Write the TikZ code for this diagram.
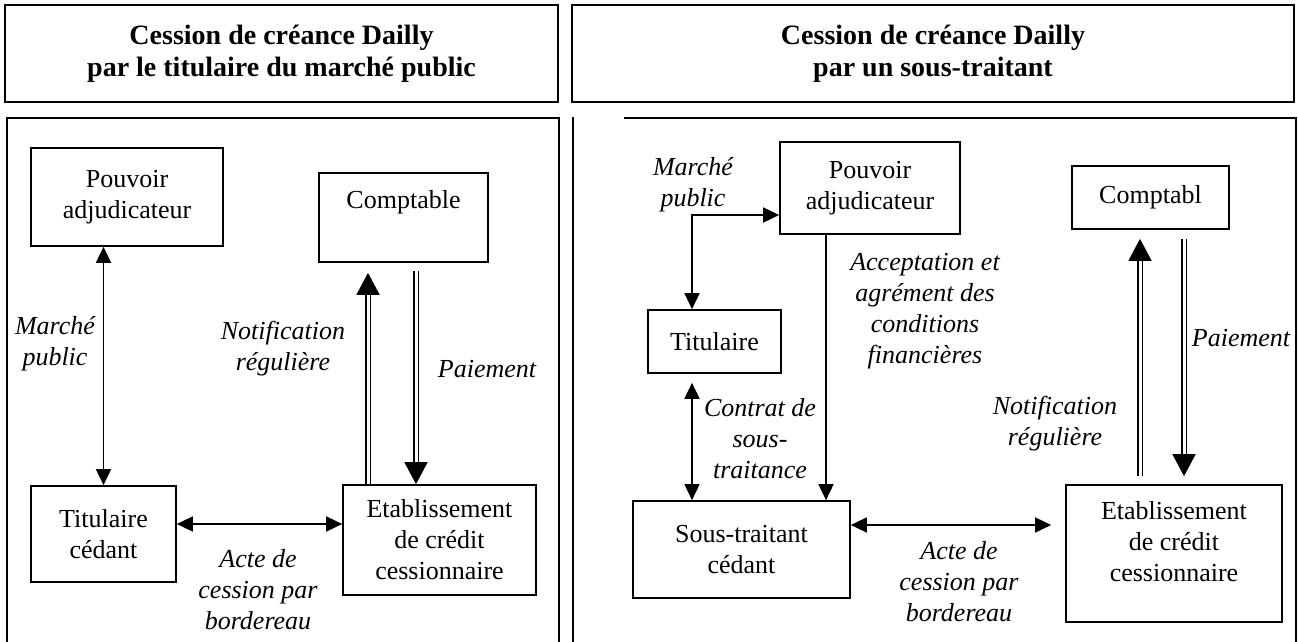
\documentclass[tikz,border=0pt]{standalone}
\usepackage{fontspec}
\setmainfont{Liberation Serif}
\usetikzlibrary{arrows.meta}
\begin{document}
\begin{tikzpicture}[x=1pt,y=-1pt,
  frame/.style={line width=1.7pt},
  box/.style={draw, line width=1.7pt, inner sep=0pt, align=center, font=\fontsize{26}{31}\selectfont},
  txt/.style={inner sep=0pt, align=center, font=\fontsize{26}{31}\selectfont},
  lbl/.style={inner sep=0pt, align=center, font=\fontsize{26}{31}\selectfont\itshape},
  ttl/.style={draw, line width=1.7pt, inner sep=0pt, align=center, font=\fontsize{28}{32}\selectfont\bfseries},
  sarr/.style={line width=1.7pt, {Triangle[length=16pt,width=15pt]}-{Triangle[length=16pt,width=15pt]}},
  sarrone/.style={line width=1.7pt, -{Triangle[length=16pt,width=15pt]}},
  dbl/.style={double, double distance=3pt, line width=1.6pt, -{Triangle[length=22pt,width=23pt]}}
]
\useasboundingbox (0,0) rectangle (1298,642);

% title boxes
\node[ttl, minimum width=553pt, minimum height=97pt] (t1) at (281.5,53.5)
  {Cession de créance Dailly\\par le titulaire du marché public};
\node[ttl, minimum width=722pt, minimum height=97pt] (t2) at (933,53.5)
  {Cession de créance Dailly\\par un sous-traitant};

% panels
\draw[frame] (7,642) -- (7,118) -- (559,118) -- (559,642);
\draw[frame] (573,117) -- (573,642);
\draw[frame] (624,118) -- (1296,118) -- (1296,642);

% left panel boxes
\node[box, minimum width=192pt, minimum height=98pt] (pa1) at (127,197) {Pouvoir\\adjudicateur};
\node[box, minimum width=169pt, minimum height=89pt] (comp1) at (403.5,217.5) {};
\node[txt] (comp1t) at (403.5,202) {Comptable};
\node[box, minimum width=145pt, minimum height=96pt] (tit1) at (103.5,534) {Titulaire\\cédant};
\node[box, minimum width=193pt, minimum height=110pt] (etab1) at (439.5,540) {Etablissement\\de crédit\\cessionnaire};

% left panel labels
\node[lbl] (l1) at (55,344) {Marché\\public};
\node[lbl] (l2) at (283,349) {Notification\\régulière};
\node[lbl] (l3) at (487,369) {Paiement};
\node[lbl] (l4) at (258,590) {Acte de\\cession par\\bordereau};

% left panel arrows
\draw[sarr] (pa1.south -| tit1.north) -- (tit1.north);
\draw[sarr] ([yshift=10pt]tit1.east) -- ([yshift=10pt]tit1.east -| etab1.west);
\draw[dbl, shorten >=10pt] ([xshift=-71.5pt]etab1.north) -- ([xshift=-71.5pt]etab1.north |- comp1.south);
\draw[dbl, shorten <=8pt] ([xshift=-23.5pt]etab1.north |- comp1.south) -- ([xshift=-23.5pt]etab1.north);

% right panel boxes
\node[box, minimum width=180pt, minimum height=92pt] (pa2) at (870,188) {Pouvoir\\adjudicateur};
\node[box, minimum width=133pt, minimum height=63pt] (tit2) at (714.5,341.5) {Titulaire};
\node[box, minimum width=217pt, minimum height=97pt] (st) at (741.5,549.5) {Sous-traitant\\cédant};
\node[box, minimum width=157pt, minimum height=63pt] (comp2) at (1150.5,197.5) {Comptabl};
\node[box, minimum width=216pt, minimum height=137pt] (etab2) at (1174,553.5) {};
\node[txt] (etab2t) at (1174,542) {Etablissement\\de crédit\\cessionnaire};

% right panel labels
\node[lbl] (l5) at (693,184.5) {Marché\\public};
\node[lbl] (l6) at (925,311.5) {Acceptation et\\agrément des\\conditions\\financières};
\node[lbl] (l7) at (760,439) {Contrat de\\sous-\\traitance};
\node[lbl] (l8) at (959,582) {Acte de\\cession par\\bordereau};
\node[lbl] (l9) at (1055,423.5) {Notification\\régulière};
\node[lbl] (l10) at (1241,338) {Paiement};

% right panel arrows
\draw[sarr] ([yshift=-27pt]pa2.west) -| ([xshift=-22.5pt]tit2.north);
\draw[sarr, shorten <=9pt] ([xshift=-22.5pt]tit2.south) -- ([xshift=-22.5pt]tit2.south |- st.north);
\draw[sarrone] ([xshift=-44pt]pa2.south) -- ([xshift=-44pt]pa2.south |- st.north);
\draw[sarr, shorten >=14pt] ([yshift=24.5pt]st.east) -- ([yshift=24.5pt]st.east -| etab2.west);
\draw[dbl, shorten <=8pt, shorten >=9pt] ([xshift=-34pt]etab2.north) -- ([xshift=-34pt]etab2.north |- comp2.south);
\draw[dbl, shorten <=9pt, shorten >=8pt] ([xshift=10pt]etab2.north |- comp2.south) -- ([xshift=10pt]etab2.north);
\end{tikzpicture}
\end{document}
